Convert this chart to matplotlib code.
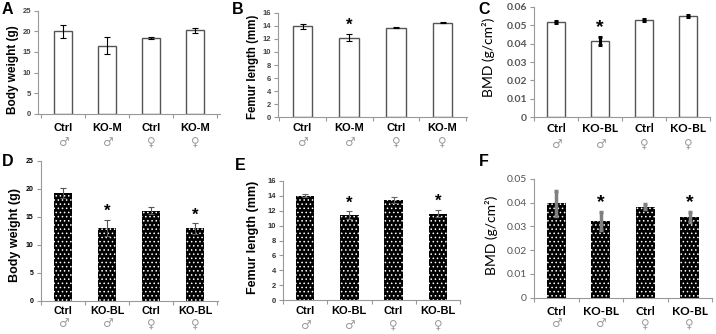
import numpy as np
import matplotlib
matplotlib.use("Agg")
import matplotlib.pyplot as plt

plt.rcParams['font.family'] = ['Liberation Sans', 'DejaVu Sans']
plt.rcParams['hatch.linewidth'] = 0.6

W, H = 716, 334

sexes = ['\u2642', '\u2642', '\u2640', '\u2640']
groups_m = ['Ctrl', 'KO-M', 'Ctrl', 'KO-M']
groups_bl = ['Ctrl', 'KO-BL', 'Ctrl', 'KO-BL']

A_means = [20.0, 16.5, 18.3, 20.2]
A_err = [1.6, 2.0, 0.2, 0.6]
B_means = [13.9, 12.2, 13.7, 14.5]
B_err = [0.4, 0.6, 0.05, 0.15]
C_means = [0.0519, 0.0414, 0.0527, 0.0548]
C_err = [0.0005, 0.0022, 0.0004, 0.0005]
D_means = [19.2, 13.0, 16.1, 12.9]
D_err = [0.9, 1.5, 0.6, 0.9]
E_means = [14.0, 11.4, 13.4, 11.6]
E_err = [0.2, 0.5, 0.4, 0.5]
F_means = [0.0397, 0.0323, 0.0383, 0.0340]
F_err = [0.0054, 0.0038, 0.001, 0.002]

sig_B = [False, True, False, False]
sig_D = [False, True, False, True]

fig = plt.figure(figsize=(W / 100, H / 100), dpi=100)
PX = 0.72  # points per pixel at dpi 100


def px_axes(left, right, top, bot):
    return fig.add_axes([left / W, 1 - bot / H, (right - left) / W, (bot - top) / H])


def panel(left, right, top, bot, first_c, spacing, means, err, ymax, ystep,
          groups, ylabel, ylab_xy, letter, letter_xy, sig=None, dark=False,
          calibri=False, ecolor='black', elw=0.8, cap=2.0, tick_fs=5.5,
          tick_color='#444444', tick_bold=True, ylab_fs=9, cat_fs=8,
          cat_off=10.7, sex_off=24.7, star_fs=12):
    ax = px_axes(left, right, top, bot)
    x = np.arange(len(means))
    a_left = (first_c - left) / spacing
    a_right = (right - left) / spacing - a_left
    ax.set_xlim(-a_left, a_right)
    ax.set_ylim(0, ymax)
    if dark:
        ax.bar(x, means, width=0.42, color='black', edgecolor='white',
               hatch='....', linewidth=0, zorder=2)
    else:
        ax.bar(x, means, width=0.42, color='white', edgecolor='#555555',
               linewidth=1.0, zorder=2)
    ax.errorbar(x, means, yerr=err, fmt='none', ecolor=ecolor, elinewidth=elw,
                capsize=cap, capthick=elw, zorder=3)
    for s in ['top', 'right']:
        ax.spines[s].set_visible(False)
    for s in ['left', 'bottom']:
        ax.spines[s].set_color('#999999')
        ax.spines[s].set_linewidth(0.8)
    yt = np.arange(0, ymax + ystep / 2, ystep)
    ax.set_yticks(yt)
    if calibri:
        ax.set_yticklabels(['0' if v == 0 else '%.2f' % v for v in yt])
    ax.tick_params(axis='y', length=3, width=0.8, color='#999999', pad=2,
                   labelsize=tick_fs, labelcolor=tick_color)
    for t in ax.get_yticklabels():
        if calibri:
            t.set_family(['Lato', 'DejaVu Sans'])
        t.set_fontweight('bold' if tick_bold else 'normal')
    ax.set_xticks(x)
    ax.set_xticklabels([])
    ax.tick_params(axis='x', which='major', length=0)
    ax.set_xticks(np.arange(-0.5, len(means), 1.0), minor=True)
    ax.tick_params(axis='x', which='minor', length=3, width=0.8, color='#999999')

    fam = ['Lato', 'DejaVu Sans'] if calibri else ['Liberation Sans', 'DejaVu Sans']
    for i in range(len(means)):
        ax.annotate(groups[i], xy=(i, 0), xycoords=('data', 'axes fraction'),
                    xytext=(0, -cat_off * PX), textcoords='offset points',
                    ha='center', va='center', fontsize=cat_fs,
                    fontweight='bold', family=fam)
        ax.annotate(sexes[i], xy=(i, 0), xycoords=('data', 'axes fraction'),
                    xytext=(0, -sex_off * PX), textcoords='offset points',
                    ha='center', va='center', fontsize=8.5, color='#9a9a9a',
                    family=['DejaVu Sans'])
        if sig is not None and sig[i]:
            ax.annotate('*', xy=(i, means[i] + err[i]), xytext=(0, 0.5),
                        textcoords='offset points', ha='center', va='bottom',
                        fontsize=star_fs, fontweight='bold')

    fig.text(ylab_xy[0] / W, 1 - ylab_xy[1] / H, ylabel, rotation=90,
             ha='center', va='center', fontsize=ylab_fs,
             fontweight='normal' if calibri else 'bold', family=fam)
    fig.text(letter_xy[0] / W, 1 - letter_xy[1] / H, letter, fontsize=11.5,
             fontweight='bold', ha='left', va='center')
    return ax


panel(38, 220, 10.7, 113.7, 63, 44, A_means, A_err, 25, 5, groups_m,
      'Body weight (g)', (13, 70), 'A', (2, 10), ylab_fs=8.5,
      cat_off=14.3, sex_off=28.3)
panel(278, 467, 12.7, 117.3, 302.5, 46.7, B_means, B_err, 16, 2, groups_m,
      'Femur length (mm)', (253, 67), 'B', (232, 10), sig=sig_B, ylab_fs=8.3,
      cat_off=10.7, sex_off=24.7)
panel(534, 710, 6.7, 117.3, 554.5, 44.8, C_means, C_err, 0.06, 0.01, groups_bl,
      'BMD (g/cm\u00b2)', (489, 57.5), 'C', (478, 10), sig=sig_B, calibri=True,
      elw=2.2, cap=1.5, tick_fs=7.5, tick_color='#555555', ylab_fs=10,
      cat_fs=8.5, cat_off=10.7, sex_off=26.7, star_fs=14)
panel(40.7, 218, 160.7, 300.7, 63, 44, D_means, D_err, 25, 5, groups_bl,
      'Body weight (g)', (15, 235), 'D', (2, 161), sig=sig_D, dark=True,
      ecolor='#555555', tick_fs=5, tick_color='black', ylab_fs=9,
      cat_fs=7.8, cat_off=10.3, sex_off=23)
panel(283, 460, 180.7, 300.3, 303.5, 45.3, E_means, E_err, 16, 2, groups_bl,
      'Femur length (mm)', (253, 237), 'E', (235, 165), sig=sig_D, dark=True,
      ecolor='#666666', tick_fs=5.5, tick_color='#333333', ylab_fs=9,
      cat_fs=8, cat_off=10.7, sex_off=25)
panel(534, 712, 179, 297.7, 556, 45, F_means, F_err, 0.05, 0.01, groups_bl,
      'BMD (g/cm\u00b2)', (491, 235), 'F', (479, 161), sig=sig_D, dark=True,
      calibri=True, ecolor='#808080', elw=2.5, cap=1.5, tick_fs=7.5,
      tick_color='#555555', tick_bold=False, ylab_fs=10, cat_fs=8.5,
      cat_off=13.5, sex_off=26, star_fs=14)

fig.savefig('out.png', dpi=100)
